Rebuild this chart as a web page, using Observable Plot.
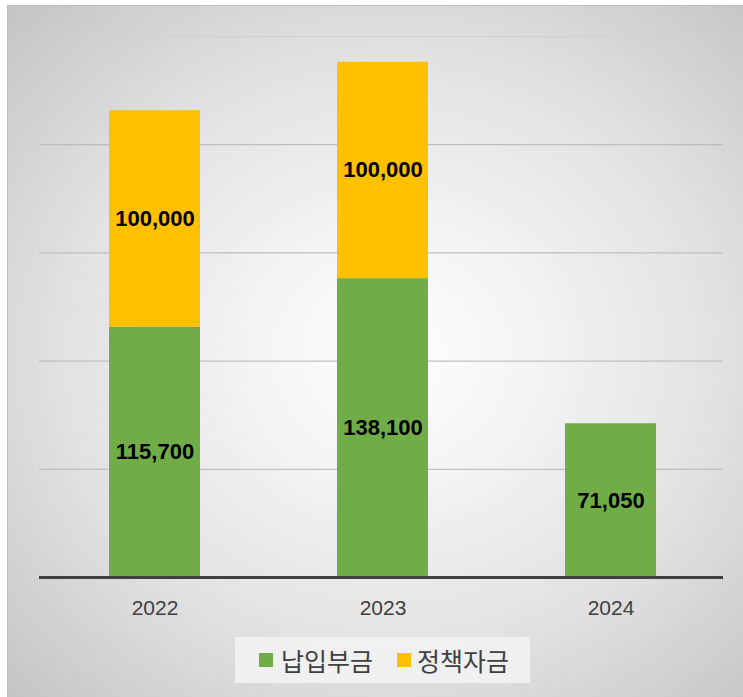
<!DOCTYPE html>
<html>
<head>
<meta charset="utf-8">
<script src="https://cdn.jsdelivr.net/npm/d3@7"></script>
<script src="https://cdn.jsdelivr.net/npm/@observablehq/plot@0.6"></script>
<style>
  html, body { margin: 0; padding: 0; background: #ffffff; }
  #page { position: relative; width: 743px; height: 697px; overflow: hidden; }
  #frame {
    position: absolute; left: 7px; top: 5px; width: 740px; height: 700px;
    box-sizing: border-box; border: 1px solid #bdbdbd;
    background: radial-gradient(ellipse farthest-corner at 52% 50%, #ffffff 0%, #f4f4f4 25%, #e2e2e2 60%, #c4c4c4 100%);
  }
  #chart { position: absolute; left: 0; top: 0; }
  #chart svg { background: transparent; }
  #legend {
    position: absolute; left: 235px; top: 637px; width: 295px; height: 46px;
    background: rgba(242,242,242,0.9);
    display: flex; align-items: center; box-sizing: border-box; padding-left: 24px;
    font-family: "Noto Sans CJK KR", "Noto Sans", sans-serif; font-size: 25px; color: #404040;
  }
  .sw { width: 14px; height: 14px; display: inline-block; margin-right: 8px; }
  .item { display: flex; align-items: center; }
</style>
</head>
<body>
<div id="page">
  <div id="frame"></div>
  <div id="chart"></div>
  <div id="legend"></div>
</div>
<script>
const years = ["2022", "2023", "2024"];
const seriesNames = ["납입부금", "정책자금"];
const payments = [115700, 138100, 71050];
const policyFunds = [100000, 100000, null];
const gridTicks = [50000, 100000, 150000, 200000];
const topTick = [250000];
const colors = ["#70ad47", "#ffc000"];

const rows = [];
years.forEach((yr, i) => {
  rows.push({year: yr, series: seriesNames[0], value: payments[i]});
  if (policyFunds[i] != null) rows.push({year: yr, series: seriesNames[1], value: policyFunds[i]});
});

const fmt = d3.format(",");

const chart = Plot.plot({
  width: 743,
  height: 620,
  marginLeft: 41,
  marginRight: 18,
  marginTop: 36,
  marginBottom: 43,
  style: {background: "transparent", overflow: "visible"},
  x: {domain: years, paddingInner: 0.6, paddingOuter: 0.3, axis: null},
  y: {domain: [0, 250000], axis: null},
  color: {domain: seriesNames, range: colors},
  marks: [
    Plot.ruleY(topTick, {stroke: "#d0d0d0", strokeWidth: 1, dx: -2}),
    Plot.ruleY(gridTicks, {stroke: "#b6b6b6", strokeWidth: 1, dx: -2}),
    Plot.barY(rows, Plot.stackY({x: "year", y: "value", z: "series", fill: "series", order: seriesNames})),
    Plot.text(rows, Plot.stackY({
      x: "year", y: "value", z: "series", order: seriesNames,
      text: d => fmt(d.value),
      fill: "#000000", fontWeight: "bold", fontSize: 22,
      fontFamily: "'Liberation Sans', Arial, sans-serif"
    })),
    Plot.ruleY([0], {stroke: "#404040", strokeWidth: 3, dx: -2}),
    Plot.axisX({
      label: null,
      tickSize: 0, tickPadding: 23, fontSize: 21, color: "#404040",
      fontFamily: "'Liberation Sans', Arial, sans-serif"
    })
  ]
});
document.getElementById("chart").appendChild(chart);

const legend = document.getElementById("legend");
seriesNames.forEach((name, i) => {
  const item = document.createElement("div");
  item.className = "item";
  if (i > 0) item.style.marginLeft = "24px";
  const sw = document.createElement("span");
  sw.className = "sw";
  sw.style.background = colors[i];
  if (i > 0) sw.style.marginRight = "6px";
  const label = document.createElement("span");
  label.textContent = name;
  item.appendChild(sw);
  item.appendChild(label);
  legend.appendChild(item);
});
</script>
</body>
</html>
